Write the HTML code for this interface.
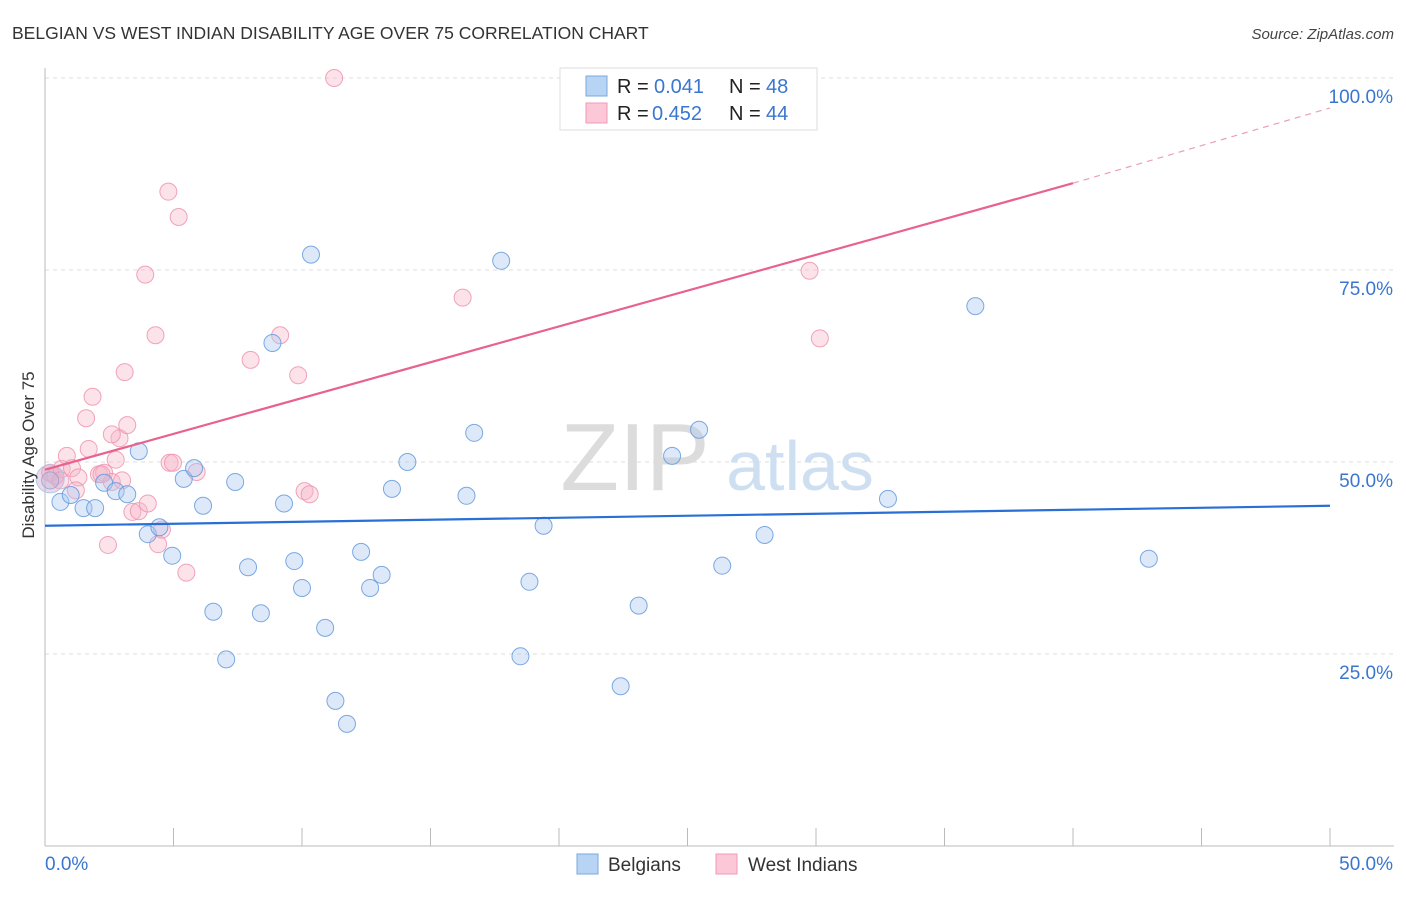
<!DOCTYPE html>
<html><head><meta charset="utf-8"><style>
body{margin:0;background:#fff;font-family:"Liberation Sans",sans-serif;}
svg text{font-family:"Liberation Sans",sans-serif;}
</style></head><body>
<svg width="1406" height="892" viewBox="0 0 1406 892">
<text x="12" y="39" font-size="17.5" fill="#333">BELGIAN VS WEST INDIAN DISABILITY AGE OVER 75 CORRELATION CHART</text>
<text x="1394" y="39" font-size="15" font-style="italic" fill="#444" text-anchor="end">Source: ZipAtlas.com</text>
<g id="grid"></g>
<text x="635" y="490" font-size="96" fill="#dcdcdc" text-anchor="middle" font-family="Liberation Serif">ZIP</text>
<text x="800" y="490" font-size="70" fill="#cfdff2" text-anchor="middle">atlas</text>
<g id="marks"></g>
<text transform="translate(34,455) rotate(-90)" font-size="17" fill="#333" text-anchor="middle">Disability Age Over 75</text>
<g>
<rect x="560" y="68" width="257" height="62" fill="#fff" stroke="#ddd"/>
<rect x="586" y="76" width="21" height="20" fill="#b8d4f5" stroke="#7aa8e0"/>
<rect x="586" y="103" width="21" height="20" fill="#fcc8d8" stroke="#f09ab5"/>
<text x="617" y="93" font-size="20" fill="#222">R =</text>
<text x="654" y="93" font-size="20" fill="#3a76d0">0.041</text>
<text x="729" y="93" font-size="20" fill="#222">N =</text>
<text x="766" y="93" font-size="20" fill="#3a76d0">48</text>
<text x="617" y="120" font-size="20" fill="#222">R =</text>
<text x="652" y="120" font-size="20" fill="#3a76d0">0.452</text>
<text x="729" y="120" font-size="20" fill="#222">N =</text>
<text x="766" y="120" font-size="20" fill="#3a76d0">44</text>
</g>
<g>
<rect x="577" y="854" width="21" height="20" fill="#b8d4f5" stroke="#7aa8e0"/>
<text x="608" y="871" font-size="19" fill="#333">Belgians</text>
<rect x="716" y="854" width="21" height="20" fill="#fcc8d8" stroke="#f09ab5"/>
<text x="748" y="871" font-size="19" fill="#333">West Indians</text>
</g>
</svg>
<script>
const yTicks=[25,50,75,100];
const yTickLabels=["25.0%","50.0%","75.0%","100.0%"];
const belgiansX=[0.2,0.6,1.0,1.5,1.95,2.3,2.75,3.2,3.65,4.0,4.45,4.95,5.4,5.8,6.15,6.55,7.05,7.4,7.9,8.4,8.85,9.3,9.7,10.0,10.35,10.9,11.3,11.75,12.3,12.65,13.1,13.5,14.1,16.4,16.7,17.75,18.5,18.85,19.4,22.4,23.1,24.4,25.45,26.35,28.0,32.8,36.2,42.95];
const belgiansY=[47.6,44.8,45.7,44.0,44.0,47.3,46.2,45.8,51.4,40.6,41.5,37.8,47.8,49.2,44.3,30.5,24.3,47.4,36.3,30.3,65.5,44.6,37.1,33.6,77.0,28.4,18.9,15.9,38.3,33.6,35.3,46.5,50.0,45.6,53.8,76.2,24.7,34.4,41.7,20.8,31.3,50.8,54.2,36.5,40.5,45.2,70.3,37.4];
const westX=[0.2,0.4,0.65,0.85,1.05,1.3,1.2,1.7,1.6,1.85,2.1,2.3,2.45,2.6,2.75,2.9,3.1,3.2,3.4,3.65,3.9,4.0,4.3,4.4,4.55,4.8,4.85,4.98,5.2,5.5,5.9,8.0,9.15,9.85,10.1,10.3,11.25,16.25,29.75,30.15,2.2,2.6,0.6,3.0];
const westY=[48.6,48.2,49.1,50.8,49.2,48.0,46.3,51.7,55.7,58.5,48.4,48.6,39.2,47.4,50.3,53.1,61.7,54.8,43.5,43.6,74.4,44.6,66.5,39.3,41.2,85.2,49.9,49.9,81.9,35.6,48.7,63.3,66.5,61.3,46.2,45.8,100.0,71.4,74.9,66.1,48.4,53.6,47.6,47.6];
const blueTrend=[[0,41.7],[50,44.3]];
const pinkTrend=[[0,49.0],[40,86.3],[50,96.1]];
const NS="http://www.w3.org/2000/svg";
const X0=45,X1=1330,Y0=846,Y100=78;
function xs(v){return X0+(X1-X0)*v/50;}
function ys(v){return Y0-(Y0-Y100)*v/100;}
function mk(t,a,p){const e=document.createElementNS(NS,t);for(const k in a)e.setAttribute(k,a[k]);p.appendChild(e);return e;}
const grid=document.getElementById('grid'),marks=document.getElementById('marks');
yTicks.forEach((t,i)=>{
 const l=mk('line',{x1:X0,x2:1394,y1:ys(t),y2:ys(t),stroke:'#ddd','stroke-dasharray':'4,4'},grid);
 
 
 const tx=mk('text',{x:1393,y:ys(t)+25,'font-size':19,fill:'#3a76d0','text-anchor':'end'},grid);
 tx.textContent=yTickLabels[i];
 
 
});
const ax=mk('line',{x1:X0,x2:X0,y1:68,y2:Y0,stroke:'#bbb'},grid);


const bx=mk('line',{x1:X0,x2:1394,y1:Y0,y2:Y0,stroke:'#bbb'},grid);


for(let i=0;i<=10;i++){const t=mk('line',{x1:xs(i*5),x2:xs(i*5),y1:828,y2:Y0,stroke:'#bbb'},grid);
 
 }
[['0.0%',45,'start'],['50.0%',1393,'end']].forEach(a=>{const t=mk('text',{x:a[1],y:870,'font-size':19,fill:'#3a76d0','text-anchor':a[2]},grid);t.textContent=a[0];
 
 });
function dots(X,Y,fill,stroke,name){X.forEach((x,i)=>{const c=mk('circle',{cx:xs(x),cy:ys(Y[i]),r:8.5,fill:fill,'fill-opacity':0.4,stroke:stroke,'stroke-width':1,'stroke-opacity':0.8},marks);
 
 });}
dots(westX,westY,'#f7b6c9','#ee8fad','west-indian-point');
dots(belgiansX,belgiansY,'#a9c9f0','#5d95dc','belgian-point');
const big=mk('circle',{cx:xs(0.2),cy:ys(47.8),r:14,fill:'#d8a8c8','fill-opacity':0.45,stroke:'#a9c9f0'},marks);


const bl=mk('line',{x1:xs(blueTrend[0][0]),y1:ys(blueTrend[0][1]),x2:xs(blueTrend[1][0]),y2:ys(blueTrend[1][1]),stroke:'#2a6fd6','stroke-width':2.2},marks);


const pl=mk('line',{x1:xs(pinkTrend[0][0]),y1:ys(pinkTrend[0][1]),x2:xs(pinkTrend[1][0]),y2:ys(pinkTrend[1][1]),stroke:'#e8628e','stroke-width':2.2},marks);


const pd=mk('line',{x1:xs(pinkTrend[1][0]),y1:ys(pinkTrend[1][1]),x2:xs(pinkTrend[2][0]),y2:ys(pinkTrend[2][1]),stroke:'#e8a0b8','stroke-width':1.2,'stroke-dasharray':'6,5'},marks);


</script>
</body></html>
